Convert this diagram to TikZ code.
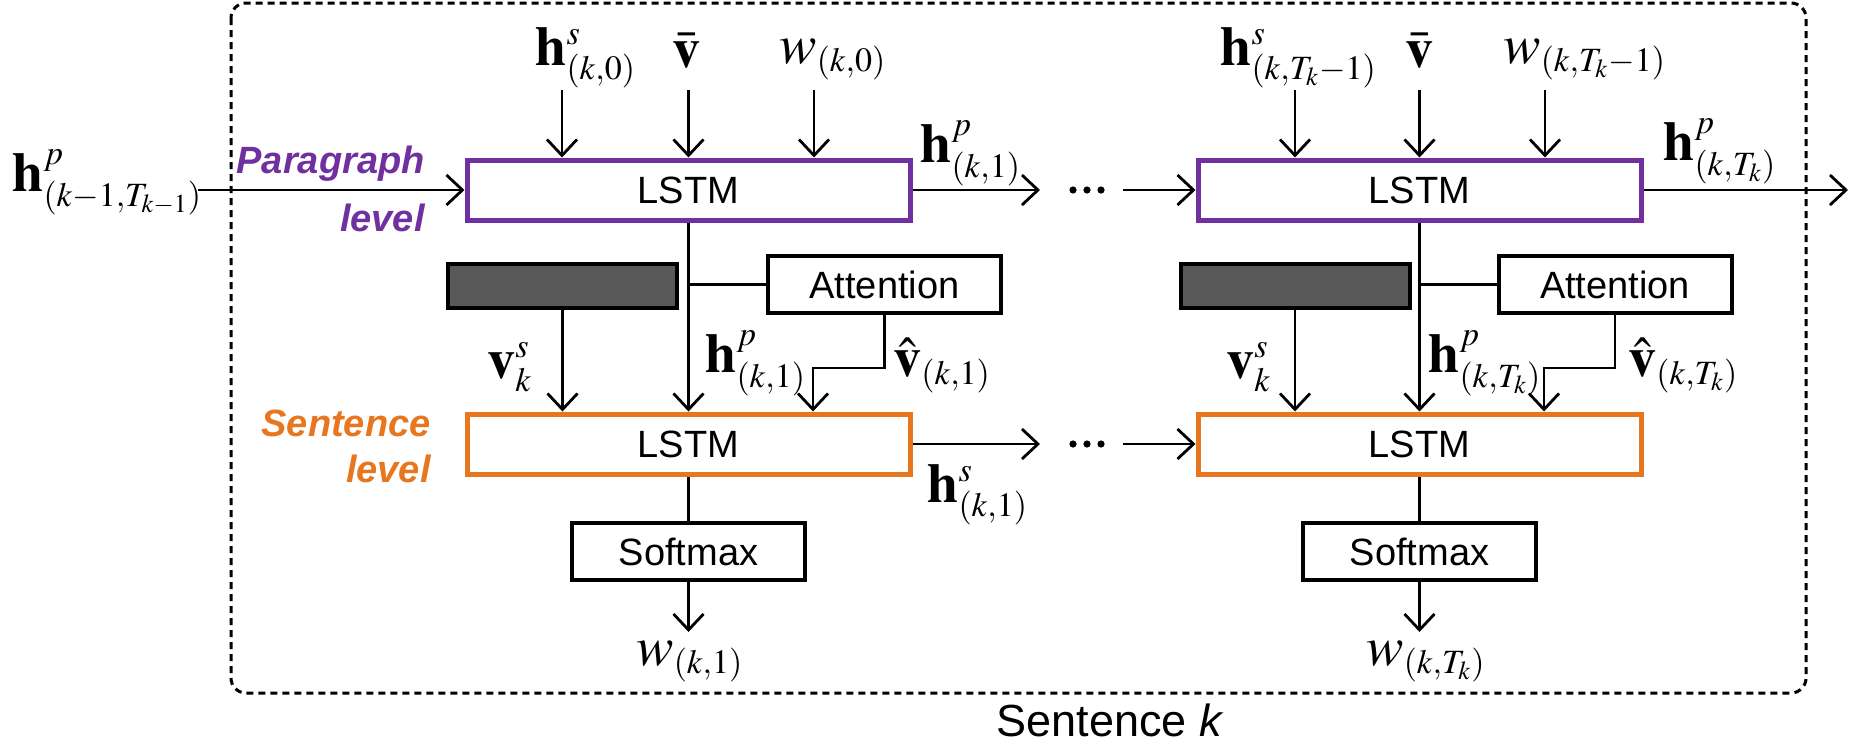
\documentclass[tikz,border=0pt]{standalone}
\usepackage{mathptmx}
\usepackage[no-math]{fontspec}
\setmainfont{Liberation Sans}
\usetikzlibrary{arrows.meta}
\DeclareMathSizes{28}{28}{17}{13}
\definecolor{purp}{RGB}{112,48,160}
\definecolor{orng}{RGB}{232,118,30}
\definecolor{dgray}{RGB}{89,89,89}
\newcommand\boxfnt{\fontsize{19}{22}\selectfont}
\newcommand\mfnt{\fontsize{28}{30}\selectfont}
\begin{document}
\begin{tikzpicture}[x=0.5pt,y=-0.5pt,
  lstm/.style={draw, line width=2.5pt, minimum width=221.5pt, minimum height=30pt, inner sep=0pt, font=\boxfnt},
  pbox/.style={lstm, draw=purp},
  sbox/.style={lstm, draw=orng},
  wbox/.style={draw, line width=2pt, minimum width=116.5pt, minimum height=28.5pt, inner sep=0pt, font=\boxfnt},
  dbox/.style={draw, fill=dgray, line width=2pt, minimum width=114.5pt, minimum height=22pt, inner sep=0pt},
  arr/.style={line width=1.4pt, -{Straight Barb[length=8pt,width=15pt,line width=1.4pt]}},
  ln/.style={line width=1.4pt},
  mlab/.style={inner sep=0pt, font=\mfnt, anchor=base west},
  lvl/.style={inner sep=0pt, font=\boxfnt\bfseries\itshape, anchor=base east},
]
\useasboundingbox (0,0) rectangle (1864,751);
% frame
\draw[line width=1.5pt, dash pattern=on 3.5pt off 2.5pt, rounded corners=7.5pt] (231,3) rectangle (1806,693);
% boxes
\node[pbox] (P1) at (688.5,190) {LSTM};
\node[pbox] (P2) at (1419.5,190) {LSTM};
\node[sbox] (S1) at (688.5,444) {LSTM};
\node[sbox] (S2) at (1419.5,444) {LSTM};
\node[dbox] (D1) at (562.5,285.5) {};
\node[dbox] (D2) at (1295,285.5) {};
\node[wbox] (A1) at (884.5,284.5) {Attention};
\node[wbox] (A2) at (1615,284.5) {Attention};
\node[wbox] (F1) at (688.5,551.5) {Softmax};
\node[wbox] (F2) at (1419.5,551.5) {Softmax};
% level labels
\node[lvl, text=purp] (pl1) at (425,173) {Paragraph};
\node[lvl, text=purp] (pl2) at (425,231) {level};
\node[lvl, text=orng] (sl1) at (431,436) {Sentence};
\node[lvl, text=orng] (sl2) at (431,482) {level};
\node[inner sep=0pt, font=\fontsize{22.5}{26}\selectfont, anchor=base] (cap) at (1110,736) {Sentence \textit{k}};
% math labels
\node[mlab] (L0) at (12,191) {$\mathbf{h}^{p}_{(k-1,T_{k-1})}$};
\node[mlab] (L1) at (535,65) {$\mathbf{h}^{s}_{(k,0)}$};
\node[mlab] (L2) at (672,67) {$\bar{\mathbf{v}}$};
\node[mlab] (L3) at (779,63) {$w_{(k,0)}$};
\node[mlab] (L4) at (920,162) {$\mathbf{h}^{p}_{(k,1)}$};
\node[mlab] (L5) at (1220,65) {$\mathbf{h}^{s}_{(k,T_k-1)}$};
\node[mlab] (L6) at (1405,67) {$\bar{\mathbf{v}}$};
\node[mlab] (L7) at (1503,63) {$w_{(k,T_k-1)}$};
\node[mlab] (L8) at (1663,160) {$\mathbf{h}^{p}_{(k,T_k)}$};
\node[mlab] (L9) at (487,378) {$\mathbf{v}^{s}_{k}$};
\node[mlab] (L10) at (705,372) {$\mathbf{h}^{p}_{(k,1)}$};
\node[mlab] (L11) at (893,376) {$\hat{\mathbf{v}}_{(k,1)}$};
\node[mlab] (L12) at (1226,378) {$\mathbf{v}^{s}_{k}$};
\node[mlab] (L13) at (1428,372) {$\mathbf{h}^{p}_{(k,T_k)}$};
\node[mlab] (L14) at (1628,376) {$\hat{\mathbf{v}}_{(k,T_k)}$};
\node[mlab] (L15) at (927,502) {$\mathbf{h}^{s}_{(k,1)}$};
\node[mlab] (L16) at (636,665) {$w_{(k,1)}$};
\node[mlab] (L17) at (1366,665) {$w_{(k,T_k)}$};
% input coordinates
\coordinate (a1) at (562,90); \coordinate (a2) at (688.5,90); \coordinate (a3) at (814,90);
\coordinate (b1) at (1295,90); \coordinate (b2) at (1419.5,90); \coordinate (b3) at (1545,90);
\foreach \c in {a1,a2,a3}{\draw[arr] (\c) -- (\c |- P1.north);}
\foreach \c in {b1,b2,b3}{\draw[arr] (\c) -- (\c |- P2.north);}
% paragraph row
\coordinate (lin) at (198,190);
\coordinate (p1e) at (1040,190);
\coordinate (p2s) at (1123,190);
\coordinate (pout) at (1848,190);
\draw[arr] (lin) -- (P1.west);
\draw[arr] (P1.east) -- (p1e);
\draw[arr] (p2s) -- (P2.west);
\draw[arr] (P2.east) -- (pout);
% sentence row
\coordinate (s1e) at (1040,444);
\coordinate (s2s) at (1123,444);
\draw[arr] (S1.east) -- (s1e);
\draw[arr] (s2s) -- (S2.west);
% dots
\foreach \y in {190,444}{\foreach \x in {1073,1087,1101}{\fill (\x,\y) circle[radius=1.8pt];}}
% middle connections 1
\draw[arr] (P1.south) -- (S1.north);
\draw[ln] (P1.south |- A1.west) -- (A1.west);
\draw[arr] (D1.south) -- (D1.south |- S1.north);
\coordinate (e1) at (813,368);
\draw[arr] (A1.south) |- (e1) -- (e1 |- S1.north);
\draw[ln] (S1.south) -- (F1.north);
\coordinate (o1) at (688.5,632);
\draw[arr] (F1.south) -- (o1);
% middle connections 2
\draw[arr] (P2.south) -- (S2.north);
\draw[ln] (P2.south |- A2.west) -- (A2.west);
\draw[arr] (D2.south) -- (D2.south |- S2.north);
\coordinate (e2) at (1544,368);
\draw[arr] (A2.south) |- (e2) -- (e2 |- S2.north);
\draw[ln] (S2.south) -- (F2.north);
\coordinate (o2) at (1419.5,632);
\draw[arr] (F2.south) -- (o2);
\end{tikzpicture}
\end{document}
